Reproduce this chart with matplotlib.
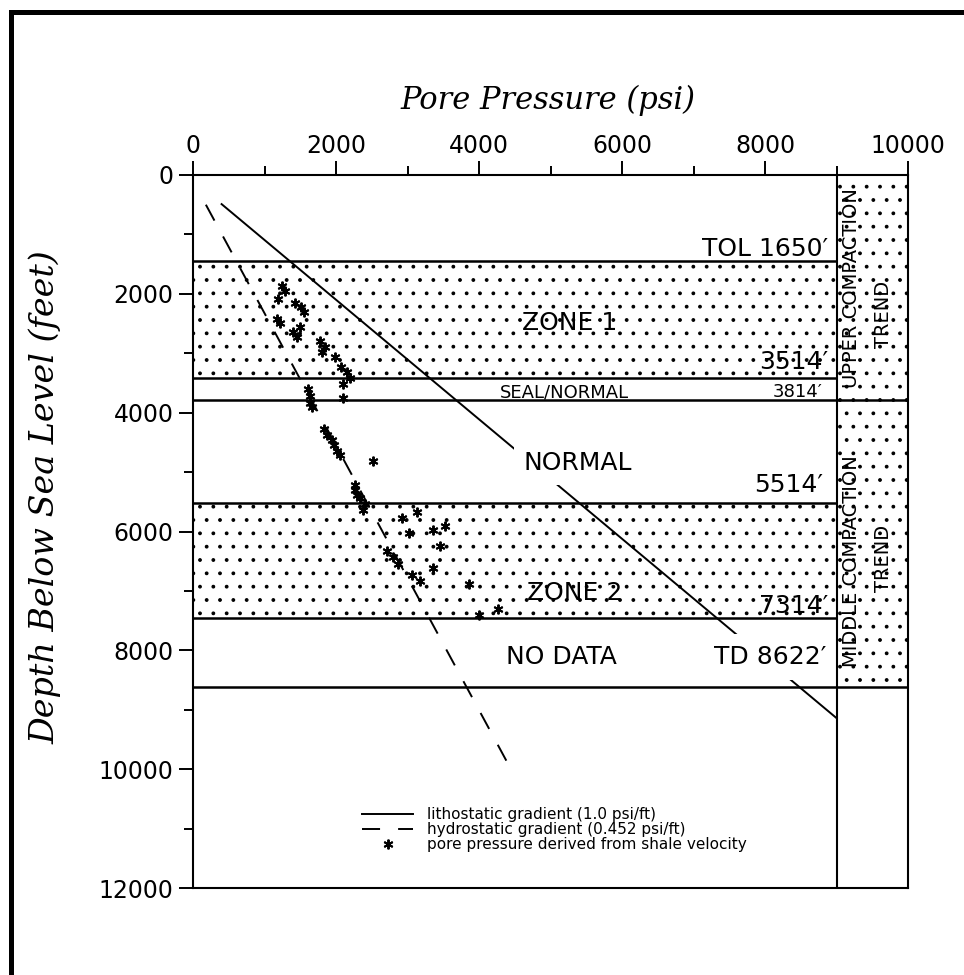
import matplotlib
matplotlib.use("Agg")
import matplotlib.pyplot as plt
from matplotlib.patches import Rectangle
import numpy as np

# pore pressure points (psi, feet)
pore_p = [1240, 1290, 1190, 1430, 1510, 1550, 1170, 1210, 1500, 1400,
          1460, 1780, 1850, 1810, 1980, 2070, 2150, 2190, 2100, 2100,
          1610, 1640, 1640, 1660, 1830, 1870, 1940, 1970, 2020, 2060,
          2520, 2260, 2270, 2290, 2340, 2400, 2380, 2920, 3130, 3020,
          3350, 3520, 3450, 2720, 2800, 2870, 3360, 3060, 3180, 3860,
          4270, 4000]
pore_d = [1870, 1960, 2080, 2160, 2230, 2310, 2420, 2490, 2550, 2640,
          2720, 2800, 2900, 2980, 3060, 3230, 3320, 3410, 3520, 3750,
          3610, 3720, 3840, 3900, 4280, 4380, 4460, 4540, 4640, 4720,
          4810, 5220, 5300, 5390, 5440, 5540, 5630, 5780, 5680, 6030,
          5970, 5910, 6240, 6320, 6430, 6540, 6620, 6730, 6840, 6880,
          7310, 7400]

# gradient lines (end points)
litho_p = [400, 9000]
litho_d = [490, 9140]
hydro_p = [180, 4460]
hydro_d = [500, 10030]

# zone boundaries as drawn (feet)
tol = 1450
zone1_base = 3410
seal_base = 3780
normal_base = 5520
zone2_base = 7450
td = 8615
panel_edge = 9000

# dpi 80 so the dotted hatch comes out finer; sizes below are given
# as if at 100 dpi and scaled by k
DPI = 80
k = 100 / DPI

plt.rcParams['lines.scale_dashes'] = False
plt.rcParams['hatch.color'] = 'black'
plt.rcParams['hatch.linewidth'] = 0.8 * k
plt.rcParams['font.family'] = ['DejaVu Sans']

fig = plt.figure(figsize=(964 / DPI, 975 / DPI), dpi=DPI)
ax = fig.add_axes([193 / 964, 1 - 888 / 975, 715 / 964, 713 / 975])
ax.set_xlim(0, 10000)
ax.set_ylim(12000, 0)

for s in ax.spines.values():
    s.set_linewidth(1.5 * k)

# outer frame of the figure
fig.add_artist(Rectangle((11 / 964, -0.2), 1.5, 1.2 - 12 / 975,
                         transform=fig.transFigure, fill=False, lw=3.6 * k,
                         edgecolor='black'))

# stippled zones
for y0, y1, x0, x1 in [(tol, zone1_base, 0, 0.9),
                       (normal_base, zone2_base, 0, 0.9),
                       (0, seal_base, 0.9, 1.0),
                       (seal_base, td, 0.9, 1.0)]:
    ax.axhspan(y0, y1, xmin=x0, xmax=x1, facecolor='none',
               edgecolor='black', lw=0, hatch='.')

ax.hlines([tol, zone1_base, normal_base, zone2_base], 0, panel_edge,
          color='black', lw=1.8 * k, zorder=4)
ax.hlines([seal_base, td], 0, 10000, color='black', lw=1.8 * k, zorder=4)
ax.axvline(panel_edge, color='black', lw=1.5 * k, zorder=4)

# data
h_l, = ax.plot(litho_p, litho_d, color='black', lw=1.4 * k,
               label='lithostatic gradient (1.0 psi/ft)')
h_h, = ax.plot(hydro_p, hydro_d, color='black', lw=1.4 * k,
               dashes=(13 * k, 13 * k),
               label='hydrostatic gradient (0.452 psi/ft)')
h_s, = ax.plot(pore_p, pore_d, ls='none', marker=(6, 2, 0), ms=7 * k,
               mew=1.4 * k, color='black',
               label='pore pressure derived from shale velocity')

# zone labels
big = 18 * k
small = 13 * k
ax.text(8880, 1360, "TOL 1650\u2032", ha='right', va='baseline', fontsize=big)
ax.text(5270, 2490, "ZONE 1", ha='center', va='center', fontsize=big)
ax.text(8880, 3270, "3514\u2032", ha='right', va='baseline', fontsize=big)
ax.text(5190, 3740, "SEAL/NORMAL", ha='center', va='baseline', fontsize=small)
ax.text(8810, 3740, "3814\u2032", ha='right', va='baseline', fontsize=small)
ax.text(5385, 4960, "NORMAL", ha='center', va='baseline', fontsize=big,
        bbox=dict(facecolor='white', edgecolor='none',
                  boxstyle='square,pad=0.4'), zorder=3)
ax.text(8810, 5330, "5514\u2032", ha='right', va='baseline', fontsize=big)
ax.text(5343, 7150, "ZONE 2", ha='center', va='baseline', fontsize=big)
ax.text(8880, 7370, "7314\u2032", ha='right', va='baseline', fontsize=big)
ax.text(5147, 8230, "NO DATA", ha='center', va='baseline', fontsize=big)
ax.text(8853, 8230, "TD 8622\u2032", ha='right', va='baseline', fontsize=big,
        bbox=dict(facecolor='white', edgecolor='none',
                  boxstyle='square,pad=0.45'), zorder=3)

# compaction trend column
col = 14 * k
ax.text(9210, 1900, "UPPER COMPACTION", rotation=90, ha='center',
        va='center', fontsize=col)
ax.text(9660, 2350, "TREND", rotation=90, ha='center', va='center',
        fontsize=col)
ax.text(9210, 6500, "MIDDLE COMPACTION", rotation=90, ha='center',
        va='center', fontsize=col)
ax.text(9660, 6450, "TREND", rotation=90, ha='center', va='center',
        fontsize=col)

# axes
ax.xaxis.tick_top()
ax.set_xticks(np.arange(0, 10001, 2000))
ax.set_xticks(np.arange(1000, 10000, 2000), minor=True)
ax.set_yticks(np.arange(0, 12001, 2000))
ax.set_yticks(np.arange(1000, 12000, 2000), minor=True)
ax.tick_params(which='both', direction='out', width=1.4 * k, top=True,
               bottom=False, left=True, right=False, labeltop=True,
               labelbottom=False)
ax.tick_params(which='major', length=10 * k, labelsize=17 * k)
ax.tick_params(which='minor', length=6.5 * k)
ax.tick_params(axis='x', pad=2 * k)
ax.tick_params(axis='y', pad=4 * k)

fig.text(548 / 964, 1 - 100 / 975, "Pore Pressure (psi)", ha='center',
         va='center', fontsize=22 * k, family='DejaVu Serif', style='italic')
fig.text(45 / 964, 1 - 497 / 975, "Depth Below Sea Level (feet)",
         rotation=90, ha='center', va='center', fontsize=24 * k,
         family='DejaVu Serif', style='italic')

ax.legend(handles=[h_l, h_h, h_s], loc='upper left',
          bbox_to_anchor=(0.237, 0.113), frameon=False, fontsize=11 * k,
          handlelength=3.3, handletextpad=0.9, labelspacing=0,
          borderpad=0, borderaxespad=0)

fig.savefig("out.png", dpi=DPI)
